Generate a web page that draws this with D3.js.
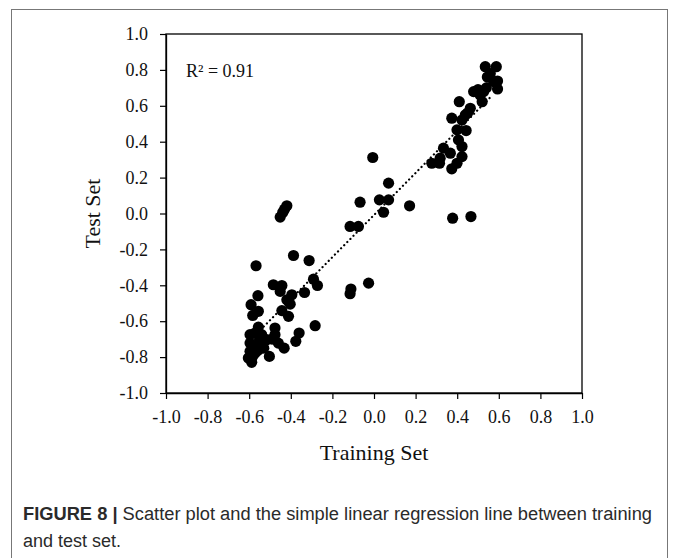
<!DOCTYPE html>
<html>
<head>
<meta charset="utf-8">
<script src="https://cdnjs.cloudflare.com/ajax/libs/d3/7.8.5/d3.min.js"></script>
<style>
  body { margin: 0; background: #fff; }
  svg { display: block; }
</style>
</head>
<body>
<svg id="chart" width="673" height="558"></svg>
<script>
// training set values (x) and test set values (y)
const trainX = [
  0.535, 0.588, 0.559, 0.545, 0.594, 0.575, 0.594, 0.527, 0.479, 0.50, 0.51, 0.54,
  0.52, 0.41, 0.463, 0.45, 0.439, 0.374, 0.423, 0.399, 0.443, 0.406, 0.423, 0.334,
  0.367, 0.423, 0.318, 0.278, 0.315, 0.399, 0.374,
  -0.006, 0.07, 0.026, 0.07, 0.046, 0.171, -0.067, -0.115, -0.075, 0.378, 0.466,
  -0.419, -0.43, -0.439, -0.451,
  -0.387, -0.312, -0.567, -0.291, -0.272, -0.026, -0.111, -0.115, -0.484, -0.443,
  -0.451, -0.395, -0.419, -0.403, -0.334, -0.558, -0.591, -0.556, -0.583, -0.443,
  -0.411, -0.283, -0.36, -0.376, -0.476, -0.556, -0.572, -0.596, -0.54, -0.476,
  -0.516, -0.596, -0.565, -0.55, -0.49, -0.46, -0.432, -0.596, -0.57, -0.503,
  -0.604, -0.588, -0.58, -0.556, -0.53
];
const testY = [
  0.818, 0.818, 0.78, 0.76, 0.738, 0.735, 0.694, 0.679, 0.679, 0.69, 0.66, 0.70,
  0.623, 0.623, 0.586, 0.56, 0.549, 0.531, 0.521, 0.466, 0.462, 0.41, 0.373, 0.364,
  0.336, 0.317, 0.308, 0.28, 0.28, 0.28, 0.249,
  0.312, 0.169, 0.076, 0.076, 0.007, 0.043, 0.063, -0.072, -0.072, -0.026, -0.017,
  0.043, 0.024, 0.006, -0.02,
  -0.234, -0.262, -0.291, -0.366, -0.401, -0.388, -0.421, -0.447, -0.397, -0.401,
  -0.434, -0.453, -0.481, -0.505, -0.44, -0.458, -0.508, -0.545, -0.568, -0.541,
  -0.573, -0.625, -0.666, -0.712, -0.638, -0.633, -0.666, -0.675, -0.675, -0.675,
  -0.703, -0.722, -0.735, -0.70, -0.70, -0.722, -0.75, -0.768, -0.775, -0.796,
  -0.805, -0.829, -0.79, -0.76, -0.75
];
// end points of the fitted regression line
const fitX = [-0.53, 0.57];
const fitY = [-0.63, 0.66];
const ticks = [-1.0, -0.8, -0.6, -0.4, -0.2, 0.0, 0.2, 0.4, 0.6, 0.8, 1.0];
const r2Label = "R\u00B2 = 0.91";

var margin = {top: 34, left: 166},
    width = 416,
    height = 359;

var svg = d3.select("#chart");

// outer figure frame
svg.append("rect")
    .attr("x", 11.5).attr("y", 9.5)
    .attr("width", 656).attr("height", 600)
    .attr("fill", "none")
    .attr("stroke", "#777")
    .attr("stroke-width", 1);

var g = svg.append("g")
    .attr("transform", "translate(" + margin.left + "," + margin.top + ")");

var x = d3.scaleLinear().domain([-1, 1]).range([0, width]);
var y = d3.scaleLinear().domain([-1, 1]).range([height, 0]);

// plot box
g.append("rect")
    .attr("width", width).attr("height", height)
    .attr("fill", "none")
    .attr("stroke", "#000")
    .attr("stroke-width", 1.3);

var fmt = function(d) { return d3.format(".1f")(d).replace("\u2212", "-"); };

var xAxis = g.append("g")
    .attr("transform", "translate(0," + height + ")")
    .call(d3.axisBottom(x).tickValues(ticks).tickFormat(fmt)
        .tickSizeInner(6).tickSizeOuter(0).tickPadding(11));
var yAxis = g.append("g")
    .call(d3.axisLeft(y).tickValues(ticks).tickFormat(fmt)
        .tickSizeInner(6).tickSizeOuter(0).tickPadding(12));

[xAxis, yAxis].forEach(function(a) {
    a.select(".domain").attr("stroke-width", 1.3);
    a.selectAll(".tick line").attr("stroke-width", 1.2);
    a.selectAll("text")
        .attr("font-family", "'Liberation Serif', 'Times New Roman', serif")
        .attr("font-size", 18)
        .attr("fill", "#111");
});

// regression line (dotted)
var fit = fitX.map(function(v, i) { return {x: v, y: fitY[i]}; });
g.append("path")
    .datum(fit)
    .attr("fill", "none")
    .attr("stroke", "#000")
    .attr("stroke-width", 2.2)
    .attr("stroke-dasharray", "0.1 4.3")
    .attr("stroke-linecap", "round")
    .attr("d", d3.line()
        .x(function(d) { return x(d.x); })
        .y(function(d) { return y(d.y); }));

// points
var pts = trainX.map(function(v, i) { return {x: v, y: testY[i]}; });
g.selectAll("circle.pt")
    .data(pts)
    .enter().append("circle")
    .attr("class", "pt")
    .attr("cx", function(d) { return x(d.x); })
    .attr("cy", function(d) { return y(d.y); })
    .attr("r", 5.6)
    .attr("fill", "#000");

// R squared
g.append("text")
    .attr("x", 20).attr("y", 43)
    .attr("font-family", "'Liberation Serif', 'Times New Roman', serif")
    .attr("font-size", 18)
    .attr("fill", "#111")
    .text(r2Label);

// axis titles
svg.append("text")
    .attr("x", margin.left + width / 2).attr("y", 460)
    .attr("text-anchor", "middle")
    .attr("font-family", "'Liberation Serif', 'Times New Roman', serif")
    .attr("font-size", 22)
    .attr("fill", "#111")
    .text("Training Set");
svg.append("text")
    .attr("transform", "translate(100," + (margin.top + height / 2) + ") rotate(-90)")
    .attr("text-anchor", "middle")
    .attr("font-family", "'Liberation Serif', 'Times New Roman', serif")
    .attr("font-size", 22)
    .attr("fill", "#111")
    .text("Test Set");

// caption
var cap = svg.append("text")
    .attr("x", 23).attr("y", 520)
    .attr("font-family", "'Liberation Sans', Arial, sans-serif")
    .attr("font-size", 18)
    .attr("fill", "#2a2a2a");
cap.append("tspan").attr("font-weight", "bold").text("FIGURE 8 | ");
cap.append("tspan").text("Scatter plot and the simple linear regression line between training");
cap.attr("textLength", 629).attr("lengthAdjust", "spacingAndGlyphs");
svg.append("text")
    .attr("x", 23).attr("y", 547)
    .attr("font-family", "'Liberation Sans', Arial, sans-serif")
    .attr("font-size", 18)
    .attr("fill", "#2a2a2a")
    .text("and test set.");
</script>
</body>
</html>
